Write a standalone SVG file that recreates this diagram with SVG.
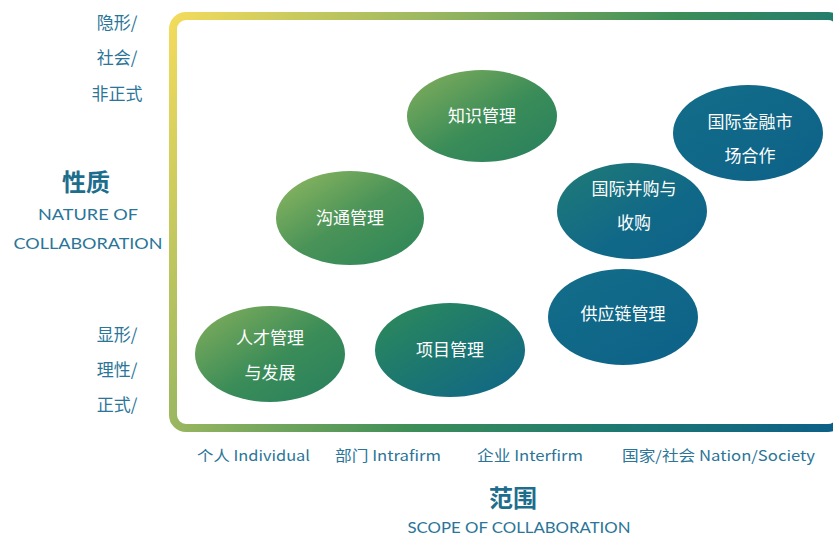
<svg xmlns="http://www.w3.org/2000/svg" width="833" height="535" viewBox="0 0 833 535">
<defs>
<linearGradient id="frameGrad" gradientUnits="userSpaceOnUse" x1="170" y1="10" x2="833" y2="430">
<stop offset="0" stop-color="#f5dc5c"/>
<stop offset="0.28" stop-color="#9cb860"/>
<stop offset="0.55" stop-color="#3c8d58"/>
<stop offset="0.75" stop-color="#1f7a70"/>
<stop offset="1" stop-color="#0c6088"/>
</linearGradient>
<linearGradient id="gGreen" x1="0" y1="0" x2="1" y2="1">
<stop offset="0" stop-color="#93ba60"/>
<stop offset="0.5" stop-color="#4a9358"/>
<stop offset="1" stop-color="#2a8558"/>
</linearGradient>
<linearGradient id="gGreenB" x1="0" y1="0" x2="1" y2="1">
<stop offset="0" stop-color="#86b05c"/>
<stop offset="0.55" stop-color="#3a8c58"/>
<stop offset="1" stop-color="#277f5e"/>
</linearGradient>
<linearGradient id="gMix" x1="0" y1="0" x2="1" y2="1">
<stop offset="0" stop-color="#2f8c58"/>
<stop offset="0.5" stop-color="#1c7770"/>
<stop offset="1" stop-color="#0f6589"/>
</linearGradient>
<linearGradient id="gTeal" x1="0" y1="0" x2="1" y2="1">
<stop offset="0" stop-color="#207b75"/>
<stop offset="0.6" stop-color="#106888"/>
<stop offset="1" stop-color="#0e6388"/>
</linearGradient>
<linearGradient id="gBlue" x1="0" y1="0" x2="1" y2="1">
<stop offset="0" stop-color="#136d89"/>
<stop offset="1" stop-color="#0d6288"/>
</linearGradient>
</defs>
<style>
.node text{font-family:"Noto Sans CJK SC","Noto Sans",sans-serif;font-size:17px;fill:#ffffff;text-anchor:middle}
.axis{font-family:"Noto Sans CJK SC","Noto Sans",sans-serif;fill:#2a7598;text-anchor:middle}
.side{font-size:17px}
.tick{font-size:14.5px;text-anchor:start}
.title{font-size:24px;font-weight:bold;fill:#1d6d8d}
.sub{font-family:"Lato","Liberation Sans",sans-serif;font-size:15px;fill:#2a7598;text-anchor:middle}
</style>
<rect id="frame" x="173" y="16" width="668" height="412" rx="13" ry="13" fill="none" stroke="url(#frameGrad)" stroke-width="8"/>

<g id="node-knowledge" class="node">
<ellipse cx="482" cy="116" rx="75" ry="46" fill="url(#gGreenB)"/>
<text x="482" y="122">知识管理</text>
</g>
<g id="node-communication" class="node">
<ellipse cx="350" cy="218" rx="74" ry="47" fill="url(#gGreen)"/>
<text x="350" y="224">沟通管理</text>
</g>
<g id="node-talent" class="node">
<ellipse cx="270" cy="354" rx="75" ry="48" fill="url(#gGreenB)"/>
<text x="270" y="344">人才管理</text>
<text x="270" y="379">与发展</text>
</g>
<g id="node-project" class="node">
<ellipse cx="450" cy="350" rx="75" ry="47" fill="url(#gMix)"/>
<text x="450" y="356">项目管理</text>
</g>
<g id="node-supply" class="node">
<ellipse cx="623" cy="317" rx="75" ry="48" fill="url(#gBlue)"/>
<text x="623" y="320">供应链管理</text>
</g>
<g id="node-ma" class="node">
<ellipse cx="632" cy="211" rx="75" ry="48" fill="url(#gTeal)"/>
<text x="634" y="195">国际并购与</text>
<text x="634" y="229">收购</text>
</g>
<g id="node-finance" class="node">
<ellipse cx="748" cy="133" rx="75" ry="48" fill="url(#gBlue)"/>
<text x="750" y="128">国际金融市</text>
<text x="750" y="162">场合作</text>
</g>

<g id="y-axis-labels">
<text class="axis side" x="117" y="29">隐形/</text>
<text class="axis side" x="117" y="64">社会/</text>
<text class="axis side" x="117" y="100">非正式</text>
<text class="axis title" x="86" y="191">性质</text>
<text class="sub" x="88" y="220" textLength="100" lengthAdjust="spacingAndGlyphs">NATURE OF</text>
<text class="sub" x="88" y="249" textLength="149" lengthAdjust="spacingAndGlyphs">COLLABORATION</text>
<text class="axis side" x="117" y="341">显形/</text>
<text class="axis side" x="117" y="376">理性/</text>
<text class="axis side" x="117" y="411">正式/</text>
</g>

<g id="x-axis-labels">
<text class="axis tick" x="197" y="461" textLength="113" lengthAdjust="spacingAndGlyphs">个人 Individual</text>
<text class="axis tick" x="335" y="461" textLength="106" lengthAdjust="spacingAndGlyphs">部门 Intrafirm</text>
<text class="axis tick" x="477" y="461" textLength="106" lengthAdjust="spacingAndGlyphs">企业 Interfirm</text>
<text class="axis tick" x="622" y="461" textLength="193" lengthAdjust="spacingAndGlyphs">国家/社会 Nation/Society</text>
<text class="axis title" x="513" y="507">范围</text>
<text class="sub" x="519" y="533" textLength="223" lengthAdjust="spacingAndGlyphs">SCOPE OF COLLABORATION</text>
</g>
</svg>
